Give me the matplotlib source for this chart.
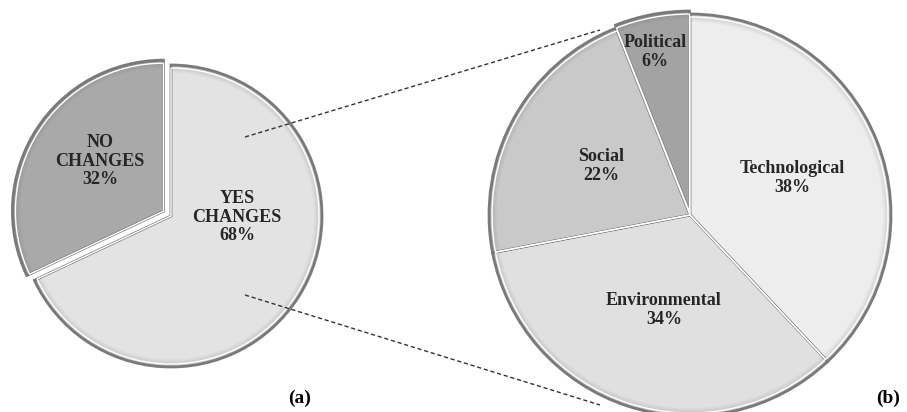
import matplotlib.pyplot as plt
from matplotlib.patches import Wedge
import numpy as np

# data
left_labels = ["NO\nCHANGES", "YES\nCHANGES"]
left_values = [32, 68]
right_labels = ["Technological", "Environmental", "Social", "Political"]
right_values = [38, 34, 22, 6]

left_colors = ["#a9a9a9", "#e3e3e3"]
right_colors = ["#ededed", "#e0e0e0", "#c9c9c9", "#a3a3a3"]

W, H = 907, 412
plt.rcParams["font.family"] = ["Liberation Serif", "DejaVu Serif"]

fig = plt.figure(figsize=(W / 100, H / 100), dpi=100)
ax = fig.add_axes([0, 0, 1, 1])


def bevel_pie(ax, values, colors, center, radius, explode, order="ccw"):
    # explode is in data units (pixels here)
    wedges, _ = ax.pie(values, colors=colors, startangle=90, counterclock=(order == "ccw"),
                       center=center, radius=radius, explode=explode,
                       wedgeprops=dict(edgecolor="#7a7a7a", linewidth=2.0),
                       frame=True)
    # soft darker rim to fake the bevel
    for w in wedges:
        for k in range(7):
            a = 0.22 * (1 - k / 7)
            ax.add_patch(Wedge(w.center, w.r - 1 - k, w.theta1, w.theta2, width=1,
                               facecolor="#555555", alpha=a, edgecolor="none"))
    # highlight line just inside the edge
    ax.pie(values, colors=["none"] * len(values), startangle=90,
           counterclock=(order == "ccw"), center=center, radius=radius - 3,
           explode=explode,
           wedgeprops=dict(edgecolor="white", linewidth=1.0, fill=False),
           frame=True)
    return wedges


def put_labels(ax, labels, values, xy):
    for lab, v, (x, y) in zip(labels, values, xy):
        ax.text(x, H - y, f"{lab}\n{v}%", ha="center", va="center",
                fontsize=13, fontweight="bold", color="#262626",
                linespacing=1.15)


# left pie (a)
bevel_pie(ax, left_values, left_colors, (171, H - 216), 151, [9, 0], order="ccw")
put_labels(ax, left_labels, left_values, [(100, 161), (237, 217)])

# right pie (b), clockwise from 12 o'clock
bevel_pie(ax, right_values, right_colors, (690, H - 215), 201, [0, 0, 0, 3], order="cw")
put_labels(ax, right_labels, right_values,
           [(792, 178), (664, 310), (601, 166), (655, 52)])

# connector lines
ax.plot([245, 600], [H - 137, H - 30], color="#333333", lw=1, ls=(0, (3, 2)))
ax.plot([245, 600], [H - 295, H - 405], color="#333333", lw=1, ls=(0, (3, 2)))

ax.text(300, H - 398, "(a)", ha="center", va="center", fontsize=14,
        fontweight="bold", color="black")
ax.text(888, H - 398, "(b)", ha="center", va="center", fontsize=14,
        fontweight="bold", color="black")

ax.set_xlim(0, W)
ax.set_ylim(0, H)
ax.set_aspect("auto")
ax.axis("off")

plt.savefig("out.png", dpi=100, facecolor="white")
